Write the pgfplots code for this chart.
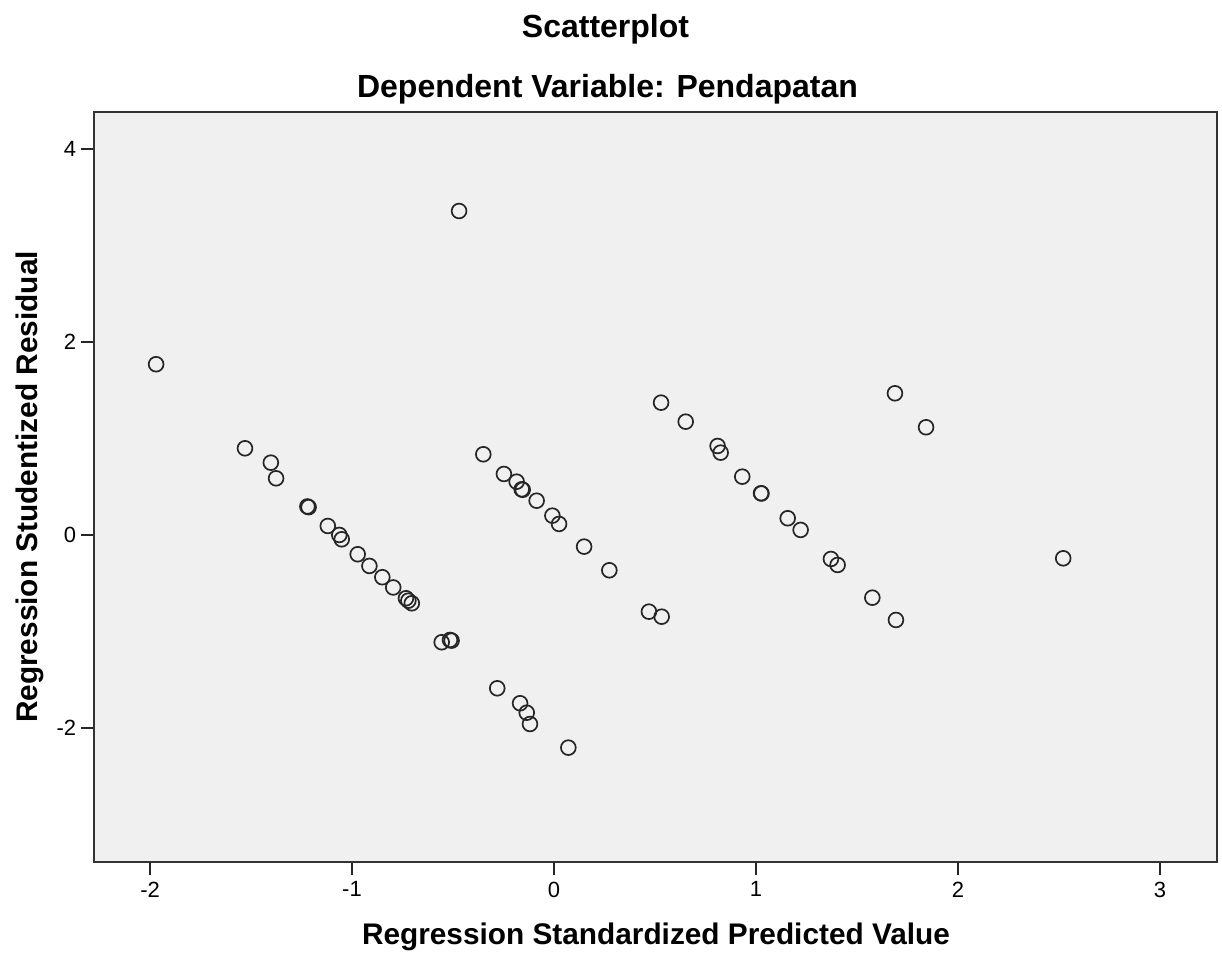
\documentclass[border=0pt]{standalone}
\usepackage{fontspec}
\setmainfont{Liberation Sans}
\usepackage{pgfplots}
\pgfplotsset{compat=1.18}
\definecolor{bg}{HTML}{F0F0F0}
\definecolor{framec}{HTML}{333333}
\pgfplotstableread{
x y
-1.970 1.766
-0.470 3.354
-1.530 0.895
-1.402 0.746
-1.376 0.584
-1.221 0.292
-1.215 0.285
-1.120 0.090
-1.063 -0.003
-1.051 -0.048
-0.972 -0.203
-0.914 -0.324
-0.850 -0.441
-0.796 -0.547
-0.733 -0.659
-0.721 -0.684
-0.704 -0.711
-0.556 -1.115
-0.515 -1.091
-0.507 -1.098
-0.281 -1.592
-0.168 -1.747
-0.135 -1.845
-0.119 -1.962
0.071 -2.207
-0.350 0.833
-0.248 0.629
-0.185 0.549
-0.160 0.470
-0.155 0.465
-0.086 0.352
-0.008 0.197
0.025 0.111
0.149 -0.124
0.274 -0.369
0.470 -0.798
0.533 -0.850
0.530 1.368
0.652 1.171
0.810 0.919
0.825 0.850
0.932 0.601
1.025 0.429
1.027 0.427
1.157 0.170
1.221 0.049
1.371 -0.252
1.404 -0.314
1.576 -0.653
1.693 -0.884
1.688 1.465
1.842 1.113
2.521 -0.245
}\resid
\begin{document}
\begin{tikzpicture}[x=1pt,y=1pt]
\useasboundingbox (-47.15,-46.15) rectangle (563.85,430.85);
\begin{axis}[
  at={(0,0)}, anchor=south west,
  scale only axis, width=561.2pt, height=375pt,
  xmin=-2.276, xmax=3.281, ymin=-3.389, ymax=4.383,
  axis background/.style={fill=bg},
  axis line style={framec, line width=1.1pt},
  xtick={-2,-1,0,1,2,3}, ytick={-2,0,2,4},
  tick align=outside, major tick length=6.5pt,
  xtick pos=bottom, ytick pos=left,
  tick style={black!85, line width=1pt},
  ticklabel style={font=\fontsize{11}{13}\selectfont},
  yticklabel style={xshift=1pt},
  /pgf/number format/assume math mode=true,
]
\addplot[only marks, mark=o, mark size=3.7pt,
  mark options={line width=0.85pt, draw=black!85}] table[x=x, y=y] {\resid};
\end{axis}
\node[anchor=base, font=\bfseries\fontsize{16}{19}\selectfont] at (255.6,411.85) {Scatterplot};
\node[anchor=base, font=\bfseries\fontsize{16}{19}\selectfont] at (256.6,381.85) {Dependent Variable: Pendapatan};
\node[anchor=base, font=\bfseries\fontsize{14.9}{18}\selectfont] at (280.85,-41.15) {Regression Standardized Predicted Value};
\node[anchor=base, rotate=90, font=\bfseries\fontsize{14.9}{18}\selectfont] at (-28.15,187.35) {Regression Studentized Residual};
\end{tikzpicture}
\end{document}
